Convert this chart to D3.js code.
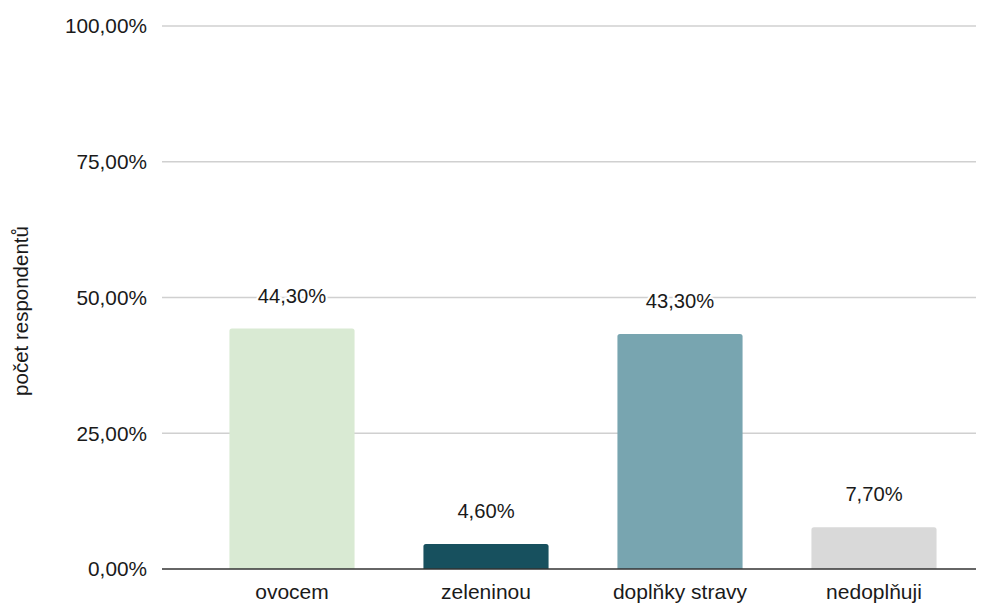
<!DOCTYPE html>
<html><head><meta charset="utf-8">
<script src="https://cdn.jsdelivr.net/npm/d3@7"></script>
<style>body{margin:0;background:#fff}svg{display:block}text{font-family:"Liberation Sans",Arial,sans-serif;fill:#1a1a1a}</style>
</head><body><svg id="c" width="991" height="603"></svg>
<script>
const categories = ["ovocem", "zeleninou", "doplňky stravy", "nedoplňuji"];
const values = [44.3, 4.6, 43.3, 7.7];
const colors = ["#d9ead3", "#17505e", "#78a5b0", "#d9d9d9"];
const yTicks = [0, 25, 50, 75, 100];
const yTitle = "počet respondentů";

const svg = d3.select("#c");
const fmt = v => v.toFixed(2).replace(".", ",") + "%";
const x = d3.scaleBand().domain(categories).range([195, 971]).paddingInner(0.355).paddingOuter(0.1775);
const y = d3.scaleLinear().domain([0, 100]).range([569, 26]);

// grid
svg.append("g").selectAll("line").data(yTicks.filter(t => t > 0)).join("line")
  .attr("x1", 162).attr("x2", 976).attr("y1", d => y(d)).attr("y2", d => y(d))
  .attr("stroke", "#d0d0d0").attr("stroke-width", 1.5);

// y labels
svg.append("g").selectAll("text").data(yTicks).join("text")
  .attr("x", 147).attr("y", d => y(d)).attr("dy", "0.35em").attr("text-anchor", "end")
  .attr("font-size", 20.8).text(fmt);

// bars
svg.append("g").selectAll("path").data(values).join("path")
  .attr("fill", (d, i) => colors[i])
  .attr("d", (d, i) => {
    const x0 = x(categories[i]), w = x.bandwidth(), y0 = y(d), y1 = y(0), r = 2.5;
    return `M${x0},${y1}V${y0 + r}Q${x0},${y0} ${x0 + r},${y0}H${x0 + w - r}Q${x0 + w},${y0} ${x0 + w},${y0 + r}V${y1}Z`;
  });

// axis line
svg.append("line").attr("x1", 162).attr("x2", 976).attr("y1", y(0)).attr("y2", y(0))
  .attr("stroke", "#333").attr("stroke-width", 1.5);

// value labels
svg.append("g").selectAll("text").data(values).join("text")
  .attr("x", (d, i) => x(categories[i]) + x.bandwidth() / 2)
  .attr("y", d => y(d) - 33).attr("dy", "0.35em").attr("text-anchor", "middle")
  .attr("font-size", 20.2).attr("stroke", "#fff").attr("stroke-width", 4)
  .attr("paint-order", "stroke").text(fmt);

// x labels
svg.append("g").selectAll("text").data(categories).join("text")
  .attr("x", d => x(d) + x.bandwidth() / 2).attr("y", 599).attr("text-anchor", "middle")
  .attr("font-size", 21).text(d => d);

// y title
svg.append("text").attr("transform", "translate(28,311) rotate(-90)")
  .attr("text-anchor", "middle").attr("font-size", 20.5).text(yTitle);
</script></body></html>
